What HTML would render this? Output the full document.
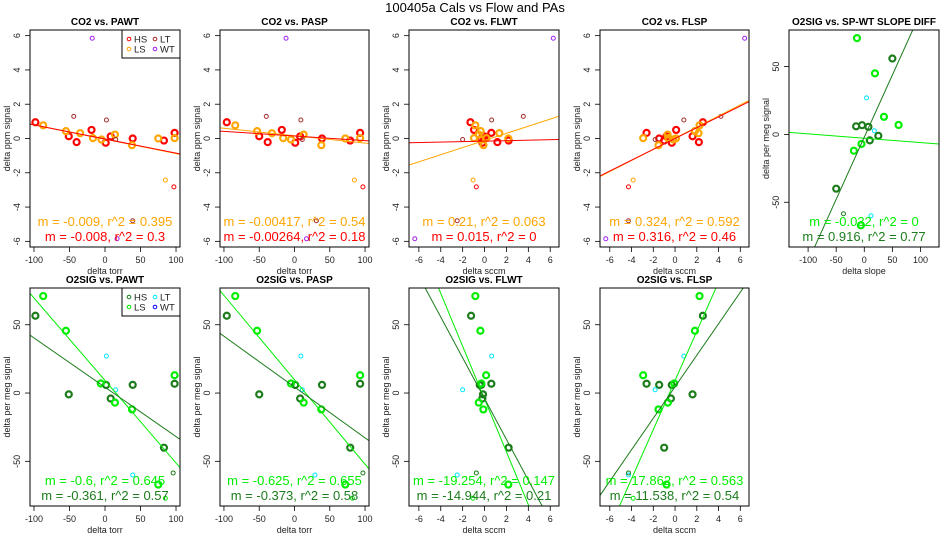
<!DOCTYPE html>
<html><head><meta charset="utf-8"><style>
html,body{margin:0;background:#fff;overflow:hidden;width:950px;height:550px}
svg{display:block;font-family:"Liberation Sans",sans-serif}
</style></head><body>
<svg id="c" width="950" height="550" viewBox="0 0 950 550">
<text x="475" y="12" text-anchor="middle" font-size="13">100405a   Cals vs Flow and PAs</text>
</svg>
<script>
// ---- CO2 (top row) y values ----
const co2_hs_y=[0.95,0.13,-0.21,0.5,-0.25,0.12,0,-0.12,0.33];
const co2_ls_y=[0.77,0.43,0.31,0.02,-0.06,0.23,-0.39,0,0.02];
const co2_lt_y=[1.29,1.08,-0.06,-4.8];
const co2_hso_y=[-2.82];
const co2_lso_y=[-2.43];
const co2_wt_y=[5.85,-5.85];
// panel 1 PAWT
const p1_hs_x=[-98,-51,-40,-19,1,8,39,83,98];
const p1_ls_x=[-87,-55,-35,-17,-5,14,38,75,98];
const p1_lt_x=[-44,2,15,39];
const p1_hso_x=[97];
const p1_lso_x=[85];
const p1_wt_x=[-18,17];
const p1_fit=[[-0.0084,-0.04],[-0.0082,-0.03]];
// panel 2 PASP
const p2_hs_x=[-96,-50,-38,-18,1,8,39,79,93];
const p2_ls_x=[-84,-53,-32,-16,-5,13,38,72,93];
const p2_lt_x=[-40,9,11,31];
const p2_hso_x=[97];
const p2_lso_x=[85];
const p2_wt_x=[-12,17];
const p2_fit=[[-0.0043,0.165],[-0.0027,0.145]];
// panel 3 FLWT
const p3_hs_x=[-1.29,-0.14,1.17,-0.96,-0.2,0.0,-0.3,2.2,0.62];
const p3_ls_x=[-0.84,-0.35,1.35,-0.96,-0.4,-0.53,-0.1,2.17,0.17];
const p3_lt_x=[3.54,0.65,-2,-2.5];
const p3_hso_x=[-0.75];
const p3_lso_x=[-1.05];
const p3_wt_x=[6.28,-6.37];
const p3_fit=[[0.208,-0.115],[0.0139,-0.154]];
// panel 4 FLSP
const p4_hs_x=[2.56,1.61,2.19,0.1,-0.3,-0.8,-1.46,-1.0,-2.62];
const p4_ls_x=[2.25,1.83,2.16,-2.93,-0.17,-0.69,-1.52,0.08,-0.63];
const p4_lt_x=[4.22,0.81,-1.83,-4.28];
const p4_hso_x=[-4.28];
const p4_lso_x=[-3.85];
const p4_wt_x=[6.4,-6.37];
const p4_fit=[[0.324,0.015],[0.316,0.0]];
// panel 5 slope diff
const p5_hs_x=[50,-14.5,-4,7.4,9.8,25,-50];
const p5_hs_y=[56,6,6.8,5.6,-4.4,-1,-40];
const p5_ls_x=[-13,19,35,61,-5,-18.5,-6];
const p5_ls_y=[71,45,13,7,-7,-12,-67];
const p5_lt_x=[4,18,12];
const p5_lt_y=[27,2.7,-60];
const p5_hso_x=[-37];
const p5_hso_y=[-58.5];
const p5_fit=[[-0.032,-2.8],[0.916,-2.0]];
// ---- O2SIG (bottom row) y values ----
const o2_hs_y=[56.6,-1,5.9,-4,6,-40,6.8];
const o2_ls_y=[71,45.6,7,-7,-12,-67,13];
const o2_lt_y=[27,2.4,-60];
const o2_hso_y=[-58.5];
const o2_lso_y=[-77];
const b1_hs_x=[-98,-51,1.6,8,39,83,98];
const b1_ls_x=[-87,-55,-6,14,38,75,98];
const b1_lt_x=[2,15,39];
const b1_hso_x=[96];
const b1_lso_x=[85];
const b1_fit=[[-0.604,9.2],[-0.361,4.25]];
const b2_hs_x=[-96,-50,1,8,39,79,93];
const b2_ls_x=[-84,-53,-5,13,38,72,93];
const b2_lt_x=[9,11,29];
const b2_hso_x=[97];
const b2_lso_x=[82];
const b2_fit=[[-0.618,9.7],[-0.372,4.4]];
const b3_hs_x=[-1.23,-0.14,-0.44,-0.2,-0.3,2.2,0.62];
const b3_ls_x=[-0.84,-0.38,-0.29,-0.53,-0.11,2.17,0.14];
const b3_lt_x=[0.65,-2,-2.5];
const b3_hso_x=[-0.75];
const b3_lso_x=[-1.05];
const b3_fit=[[-19.34,-4.4],[-14.94,-4.1]];
const b4_hs_x=[2.56,1.61,-0.3,-0.38,-1.46,-1.0,-2.62];
const b4_ls_x=[2.25,1.83,-0.08,-0.66,-1.52,-0.78,-2.93];
const b4_lt_x=[0.81,-1.83,-4.28];
const b4_hso_x=[-4.28];
const b4_lso_x=[-3.85];
const b4_fit=[[18.0,9.2],[11.53,4.6]];
// ticks
const ticksCO2=[-6,-4,-2,0,2,4,6];
const ticksO2=[-50,0,50];
const ticksPA=[-100,-50,0,50,100];
const ticksFL=[-6,-4,-2,0,2,4,6];

const NS="http://www.w3.org/2000/svg";
const svg=document.getElementById('c');
const RED="#ff0000",ORG="#ffa500",BRN="#a52a2a",PUR="#a020f0",DG="#1c7c1c",LG="#00ee00",CY="#00e5ff",BL="#0000ff";
function mk(tag,attrs,parent){const e=document.createElementNS(NS,tag);for(const k in attrs)e.setAttribute(k,attrs[k]);(parent||svg).appendChild(e);return e;}
let pid=0;
function panel(c){
  pid++;
  const g=mk('g',{});
  
  
  const [L,T,R,B]=c.box;
  const sx=v=>L+(v-c.xl[0])/(c.xl[1]-c.xl[0])*(R-L);
  const sy=v=>B-(v-c.yl[0])/(c.yl[1]-c.yl[0])*(B-T);
  const cp=mk('clipPath',{id:'cp'+pid},g);mk('rect',{x:L,y:T,width:R-L,height:B-T},cp);
  const t=mk('text',{x:(L+R)/2,y:T-5,'text-anchor':'middle','font-size':10,'font-weight':'bold'},g);t.textContent=c.title;
  
  const xt=mk('text',{x:(L+R)/2,y:B+27,'text-anchor':'middle','font-size':9,fill:'#222'},g);xt.textContent=c.xlab;
  
  const yx=L-20,yy=(T+B)/2;
  const yt=mk('text',{x:yx,y:yy,'text-anchor':'middle','font-size':9,fill:'#222',transform:`rotate(-90 ${yx} ${yy})`},g);yt.textContent=c.ylab;
  
  c.xt.forEach(v=>{const x=sx(v);mk('line',{x1:x,x2:x,y1:B,y2:B+5,stroke:'#000','stroke-width':0.8},g);
    const e=mk('text',{x:x,y:B+16,'text-anchor':'middle','font-size':9,fill:'#222'},g);e.textContent=v;
    });
  c.yt.forEach(v=>{const y=sy(v);mk('line',{x1:L-5,x2:L,y1:y,y2:y,stroke:'#000','stroke-width':0.8},g);
    const e=mk('text',{x:L-10,y:y,'text-anchor':'middle','font-size':9,fill:'#222',transform:`rotate(-90 ${L-10} ${y})`},g);e.textContent=v;
    });
  const pg=mk('g',{'clip-path':`url(#cp${pid})`},g);
  c.series.forEach(s=>{s.x.forEach((xv,i)=>{
    const p=mk('circle',{cx:sx(xv),cy:sy(s.y[i]),r:s.thick?3:2,fill:'none',stroke:s.col,'stroke-width':s.thick?2.2:1},pg);
    });});
  c.fits.forEach((f,i)=>{const m=f[0],b=f[1];
    const l=mk('line',{x1:sx(c.xl[0]),y1:sy(m*c.xl[0]+b),x2:sx(c.xl[1]),y2:sy(m*c.xl[1]+b),stroke:c.fcol[i],'stroke-width':1},pg);
    });
  mk('rect',{x:L,y:T,width:R-L,height:B-T,fill:'none',stroke:'#000','stroke-width':1},g);
  c.txt.forEach((s,i)=>{const e=mk('text',{x:(L+R)/2,y:B-21+i*15,'text-anchor':'middle','font-size':13,fill:c.fcol[i]},g);e.textContent=s;
    });
  if(c.legend){const lg=mk('g',{},g);
    
    mk('rect',{x:R-58,y:T,width:58,height:28,fill:'#fff',stroke:'#000','stroke-width':1},lg);
    c.legend.forEach((e,i)=>{const x=R-51+(i%2)*26,y=T+9+Math.floor(i/2)*10;
      mk('circle',{cx:x,cy:y,r:1.8,fill:'none',stroke:e[1],'stroke-width':1},lg);
      const tt=mk('text',{x:x+5,y:y+3.5,'font-size':9.5,fill:'#222'},lg);tt.textContent=e[0];
      });}
}
const TOP=[30,247],BOT=[288,506];
const X=[[30,180],[220,369],[409,559],[600,749],[789,939]];
const xlPA=[-105.6,105.6],xlFL=[-6.9,6.8],ylC=[-6.33,6.33],ylO=[-82.7,76.9];
function co2Series(hx,lx,tx,hox,lox,wx){return[
 {x:hx,y:co2_hs_y,col:RED,thick:1,nm:'hs'},{x:lx,y:co2_ls_y,col:ORG,thick:1,nm:'ls'},
 {x:tx,y:co2_lt_y,col:BRN,nm:'lt'},{x:hox,y:co2_hso_y,col:RED,nm:'hs-outlier'},
 {x:lox,y:co2_lso_y,col:ORG,nm:'ls-outlier'},{x:wx,y:co2_wt_y,col:PUR,nm:'wt'}];}
function o2Series(hx,lx,tx,hox,lox){return[
 {x:hx,y:o2_hs_y,col:DG,thick:1,nm:'hs'},{x:lx,y:o2_ls_y,col:LG,thick:1,nm:'ls'},
 {x:tx,y:o2_lt_y,col:CY,nm:'lt'},{x:hox,y:o2_hso_y,col:DG,nm:'hs-outlier'},{x:lox,y:o2_lso_y,col:LG,nm:'ls-outlier'}];}
const cl=[ORG,RED],ol=[LG,DG];
panel({name:'panel-co2-pawt',box:[X[0][0],TOP[0],X[0][1],TOP[1]],xl:xlPA,yl:ylC,xt:ticksPA,yt:ticksCO2,title:'CO2 vs. PAWT',xlab:'delta torr',ylab:'delta ppm signal',
 series:co2Series(p1_hs_x,p1_ls_x,p1_lt_x,p1_hso_x,p1_lso_x,p1_wt_x),fits:p1_fit,fcol:cl,txt:['m = -0.009, r^2 = 0.395','m = -0.008, r^2 = 0.3'],
 legend:[['HS',RED],['LT',BRN],['LS',ORG],['WT',PUR]]});
panel({name:'panel-co2-pasp',box:[X[1][0],TOP[0],X[1][1],TOP[1]],xl:xlPA,yl:ylC,xt:ticksPA,yt:ticksCO2,title:'CO2 vs. PASP',xlab:'delta torr',ylab:'delta ppm signal',
 series:co2Series(p2_hs_x,p2_ls_x,p2_lt_x,p2_hso_x,p2_lso_x,p2_wt_x),fits:p2_fit,fcol:cl,txt:['m = -0.00417, r^2 = 0.54','m = -0.00264, r^2 = 0.18']});
panel({name:'panel-co2-flwt',box:[X[2][0],TOP[0],X[2][1],TOP[1]],xl:xlFL,yl:ylC,xt:ticksFL,yt:ticksCO2,title:'CO2 vs. FLWT',xlab:'delta sccm',ylab:'delta ppm signal',
 series:co2Series(p3_hs_x,p3_ls_x,p3_lt_x,p3_hso_x,p3_lso_x,p3_wt_x),fits:p3_fit,fcol:cl,txt:['m = 0.21, r^2 = 0.063','m = 0.015, r^2 = 0']});
panel({name:'panel-co2-flsp',box:[X[3][0],TOP[0],X[3][1],TOP[1]],xl:xlFL,yl:ylC,xt:ticksFL,yt:ticksCO2,title:'CO2 vs. FLSP',xlab:'delta sccm',ylab:'delta ppm signal',
 series:co2Series(p4_hs_x,p4_ls_x,p4_lt_x,p4_hso_x,p4_lso_x,p4_wt_x),fits:p4_fit,fcol:cl,txt:['m = 0.324, r^2 = 0.592','m = 0.316, r^2 = 0.46']});
panel({name:'panel-o2sig-slope-diff',box:[X[4][0],TOP[0],X[4][1],TOP[1]],xl:[-134,133],yl:[-83,77],xt:ticksPA,yt:ticksO2,title:'O2SIG vs. SP-WT SLOPE DIFF',xlab:'delta slope',ylab:'delta per meg signal',
 series:[{x:p5_hs_x,y:p5_hs_y,col:DG,thick:1,nm:'hs'},{x:p5_ls_x,y:p5_ls_y,col:LG,thick:1,nm:'ls'},{x:p5_lt_x,y:p5_lt_y,col:CY,nm:'lt'},{x:p5_hso_x,y:p5_hso_y,col:DG,nm:'hs-outlier'}],
 fits:p5_fit,fcol:ol,txt:['m = -0.032, r^2 = 0','m = 0.916, r^2 = 0.77']});
panel({name:'panel-o2sig-pawt',box:[X[0][0],BOT[0],X[0][1],BOT[1]],xl:xlPA,yl:ylO,xt:ticksPA,yt:ticksO2,title:'O2SIG vs. PAWT',xlab:'delta torr',ylab:'delta per meg signal',
 series:o2Series(b1_hs_x,b1_ls_x,b1_lt_x,b1_hso_x,b1_lso_x),fits:b1_fit,fcol:ol,txt:['m = -0.6, r^2 = 0.645','m = -0.361, r^2 = 0.57'],
 legend:[['HS',DG],['LT',CY],['LS',LG],['WT',BL]]});
panel({name:'panel-o2sig-pasp',box:[X[1][0],BOT[0],X[1][1],BOT[1]],xl:xlPA,yl:ylO,xt:ticksPA,yt:ticksO2,title:'O2SIG vs. PASP',xlab:'delta torr',ylab:'delta per meg signal',
 series:o2Series(b2_hs_x,b2_ls_x,b2_lt_x,b2_hso_x,b2_lso_x),fits:b2_fit,fcol:ol,txt:['m = -0.625, r^2 = 0.655','m = -0.373, r^2 = 0.58']});
panel({name:'panel-o2sig-flwt',box:[X[2][0],BOT[0],X[2][1],BOT[1]],xl:xlFL,yl:ylO,xt:ticksFL,yt:ticksO2,title:'O2SIG vs. FLWT',xlab:'delta sccm',ylab:'delta per meg signal',
 series:o2Series(b3_hs_x,b3_ls_x,b3_lt_x,b3_hso_x,b3_lso_x),fits:b3_fit,fcol:ol,txt:['m = -19.254, r^2 = 0.147','m = -14.944, r^2 = 0.21']});
panel({name:'panel-o2sig-flsp',box:[X[3][0],BOT[0],X[3][1],BOT[1]],xl:xlFL,yl:ylO,xt:ticksFL,yt:ticksO2,title:'O2SIG vs. FLSP',xlab:'delta sccm',ylab:'delta per meg signal',
 series:o2Series(b4_hs_x,b4_ls_x,b4_lt_x,b4_hso_x,b4_lso_x),fits:b4_fit,fcol:ol,txt:['m = 17.862, r^2 = 0.563','m = 11.538, r^2 = 0.54']});
</script>
</body></html>
